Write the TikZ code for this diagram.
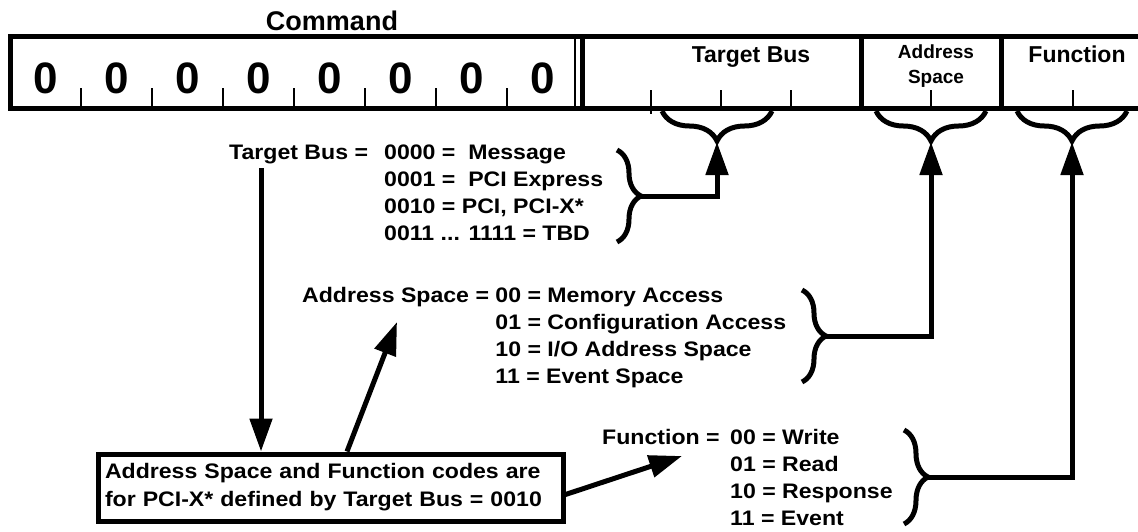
\documentclass[tikz,border=0pt]{standalone}
\usepackage{fontspec}
\setmainfont{Liberation Sans}
\newfontfamily\widefont{Liberation Sans}[FakeStretch=1.1]
\usetikzlibrary{arrows.meta,decorations.pathreplacing,calc}
\newcommand\myfs[2]{\fontsize{#1}{#2}\selectfont}
\begin{document}
\begin{tikzpicture}[x=1pt,y=-1pt,
  frame/.style={line width=5pt},
  tick/.style={line width=1.5pt},
  arr/.style={line width=5pt,-{Triangle[length=33pt,width=22pt]}},
  conn/.style={line width=5pt,line join=miter,-{Triangle[length=33pt,width=22pt]}},
  topbrace/.style={line width=5pt,decorate,decoration={brace,amplitude=30pt}},
  listbrace/.style={line width=5pt,decorate,decoration={brace,amplitude=24pt}},
  digit/.style={inner sep=0pt,font=\myfs{44}{44}\bfseries},
  head/.style={inner sep=0pt,anchor=base,font=\myfs{23}{23}\bfseries},
  lst/.style={inner sep=0pt,anchor=base west,font=\widefont\myfs{21}{27}\bfseries},
  ]
\fill[white] (0,0) rectangle (1138,531);
\useasboundingbox (0,0) rectangle (1138,531);

% header
\node[head,font=\myfs{27}{27}\bfseries] (cmd) at (332,30) {Command};
\draw[frame] (10,36) rectangle (1147,108);
\draw[tick] (575,36) -- (575,108);
\draw[frame] (582,36) -- (582,108);
\draw[frame] (861,36) -- (861,108);
\draw[frame] (1001,36) -- (1001,108);
\foreach \k in {1,...,7} \draw[tick] (10+71*\k,88) -- (10+71*\k,108);
\foreach \k in {0,...,7} \node[digit] (d\k) at (45.5+71*\k,78) {0};
\draw[tick] (651,90) -- (651,114);
\draw[tick] (721,90) -- (721,108);
\draw[tick] (791,90) -- (791,108);
\draw[tick] (931,90) -- (931,108);
\draw[tick] (1073,90) -- (1073,108);
\node[head] (tbh) at (751,62) {Target Bus};
\node[head,font=\myfs{19}{19}\bfseries] (ash1) at (936,58) {Address};
\node[head,font=\myfs{19}{19}\bfseries] (ash2) at (936,83) {Space};
\node[head] (fnh) at (1077,62) {Function};

% top braces
\draw[topbrace] (772,111) -- (662,111);
\draw[topbrace] (986,111) -- (876,111);
\draw[topbrace] (1127,111) -- (1017,111);
\coordinate (tbtip) at (717,142);
\coordinate (astipt) at (931,142);
\coordinate (fntipt) at (1072,142);

% Target bus list
\node[lst] (tbl) at (229,159) {Target Bus =};
\node[lst] (tbc) at (384,159) {\begin{tabular}[t]{@{}l@{}}0000 =\ \ Message\\0001 =\ \ PCI Express\\0010 = PCI, PCI-X*\\0011 ... 1111 = TBD\end{tabular}};
\draw[listbrace] (617,150) -- (617,242);
\coordinate (tbb) at (641,196);
\draw[conn] (tbb) -| (tbtip);

% Address space list
\node[lst] (asl) at (302,302) {\begin{tabular}[t]{@{}l@{\ }l@{}}Address Space =&00 = Memory Access\\&01 = Configuration Access\\&10 = I/O Address Space\\&11 = Event Space\end{tabular}};
\draw[listbrace] (802,290) -- (802,382);
\coordinate (asb) at (826,336);
\draw[conn] (asb) -| (astipt);

% Function list
\node[lst] (fnl) at (602,444) {Function =};
\node[lst] (fnc) at (730,444) {\begin{tabular}[t]{@{}l@{}}00 = Write\\01 = Read\\10 = Response\\11 = Event\end{tabular}};
\draw[listbrace] (904,430) -- (904,524);
\coordinate (fnb) at (928,477);
\draw[conn] (fnb) -| (fntipt);

% note box
\node[draw,line width=5pt,minimum width=465pt,minimum height=67pt,inner sep=0pt,
      text width=451pt,align=left,
      font=\widefont\myfs{21}{28}\bfseries] (note) at (330.5,487.5)
  {Address Space and Function codes are\\for PCI-X* defined by Target Bus = 0010};

\coordinate (tbstart) at (261,168);
\draw[arr] (tbstart) -- (tbstart |- note.north);
\coordinate (asfoot) at (347,0);
\coordinate (astxt) at (397,322);
\draw[arr] (asfoot |- note.north) -- (astxt);
\coordinate (fntxt) at (682,456);
\draw[arr] ($(note.east)+(0,7)$) -- (fntxt);
\end{tikzpicture}
\end{document}
